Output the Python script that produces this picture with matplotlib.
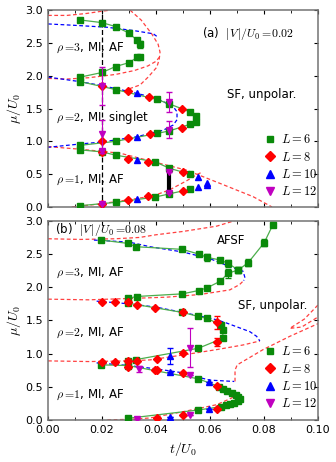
import matplotlib
matplotlib.use("Agg")
import matplotlib.pyplot as plt
import numpy as np

plt.rcParams['mathtext.fontset'] = 'cm'
plt.rcParams['font.size'] = 8

nan = np.nan

# ---------------- panel (a): |V|/U0 = 0.02 ----------------
a_L6_t = [0.012, 0.02, 0.025, 0.03, 0.033, 0.034, nan,
          0.034, 0.033, 0.03, 0.025, 0.02, 0.012, 0.012, 0.025, 0.0403, 0.045, 0.0526, 0.0548,
          0.0548, 0.0526, 0.045, 0.0403, 0.025, 0.012, 0.012, 0.02, 0.025, 0.0396, 0.045, 0.0526, nan,
          0.0526, 0.045, 0.0396, 0.025, 0.012]
a_L6_mu = [2.85, 2.81, 2.75, 2.65, 2.54, 2.48, nan,
           2.29, 2.28, 2.20, 2.14, 2.05, 1.98, 1.91, 1.79, 1.64, 1.57, 1.45, 1.39,
           1.30, 1.26, 1.16, 1.12, 1.00, 0.94, 0.87, 0.84, 0.79, 0.69, 0.59, 0.50, nan,
           0.27, 0.20, 0.15, 0.07, 0.02]
a_L8_t = [0.02, 0.0297, 0.0375, 0.0495, 0.0495, 0.0378, 0.0297, 0.02,
          0.02, 0.0297, 0.0371, 0.0501, 0.0501, 0.0371, 0.0297, 0.02]
a_L8_mu = [1.84, 1.77, 1.67, 1.50, 1.20, 1.11, 1.05, 1.00,
           0.84, 0.73, 0.69, 0.54, 0.25, 0.16, 0.10, 0.05]
a_L10_t = [0.0328, 0.0328, 0.0328, 0.0328, 0.0557, 0.0557, 0.059, 0.059]
a_L10_mu = [1.73, 1.06, 0.715, 0.12, 0.45, 0.30, 0.37, 0.33]
a_L12_t = [0.02, 0.02, 0.02, 0.02, 0.045, 0.045, 0.045, 0.045]
a_L12_mu = [1.84, 1.11, 0.86, 0.05, 1.60, 1.18, 0.54, 0.22]
a_L12_err = [0.29, 0.22, 0.03, 0.0, 0.15, 0.13, 0.0, 0.0]
a_bar_t = [0.045, 0.045]
a_bar_mu = [0.24, 0.54]

# mean-field / theory boundaries (a)
a_red1_t = [0.0, 0.007, 0.0143, 0.0193, 0.023]
a_red1_mu = [2.92, 2.92, 2.95, 2.98, 3.0]
a_red2_t = [0.0304, 0.0345, 0.0384, 0.0408, 0.0415, 0.0412, 0.0403, 0.0371, 0.0341, 0.030]
a_red2_mu = [3.0, 2.85, 2.64, 2.48, 2.36, 2.25, 2.13, 1.98, 1.86, 1.80]
a_red3_t = [0.0, 0.007, 0.015, 0.025, 0.032, 0.037, 0.0400, 0.0412]
a_red3_mu = [1.96, 1.95, 1.97, 2.02, 2.08, 2.15, 2.22, 2.28]
a_red4_t = [0.0, 0.012, 0.0267, 0.039, 0.0514, 0.0637, 0.076, 0.083]
a_red4_mu = [0.92, 0.88, 0.82, 0.69, 0.56, 0.36, 0.157, 0.0]
a_red5_t = [0.0088, 0.019, 0.0316, 0.039, 0.045, 0.0514, 0.055, 0.057]
a_red5_mu = [0.0, 0.045, 0.12, 0.17, 0.26, 0.40, 0.49, 0.53]
a_blue1_t = [0.0, 0.0094, 0.0217, 0.0316, 0.039, 0.041]
a_blue1_mu = [2.79, 2.77, 2.74, 2.69, 2.64, 2.58]
a_blue2_t = [0.0, 0.0119, 0.02, 0.03, 0.04, 0.0464, 0.0478, 0.0478, 0.0464, 0.0427, 0.0328, 0.0199, 0.0119, 0.0]
a_blue2_mu = [1.98, 1.91, 1.85, 1.76, 1.66, 1.53, 1.45, 1.33, 1.25, 1.17, 1.07, 0.99, 0.96, 0.91]

# ---------------- panel (b): |V|/U0 = 0.08 ----------------
b_L6_t = [0.0198, 0.0296, 0.0327, 0.0498, 0.0558, 0.0589, 0.0638, 0.0667, 0.0705, 0.0742, 0.0801, 0.0832, nan,
          0.0296, 0.0328, 0.0498, 0.0558, 0.0589, 0.0638, 0.0667, 0.0705, nan,
          0.0296, 0.0498, 0.0557, 0.0589, 0.0642, 0.0649, 0.0647, 0.0557, 0.0327, 0.0296, nan,
          0.0198, 0.0296, 0.0557, 0.0635, 0.065, 0.0665, 0.068, 0.0695, 0.0705, 0.071, 0.0705,
          0.069, 0.0675, 0.066, 0.064, 0.0557, 0.0296]
b_L6_mu = [2.71, 2.66, 2.61, 2.57, 2.50, 2.45, 2.41, 2.36, 2.26, 2.37, 2.67, 2.93, nan,
           1.83, 1.86, 1.90, 1.95, 1.99, 2.09, 2.21, 2.26, nan,
           1.76, 1.62, 1.56, 1.53, 1.43, 1.36, 1.23, 1.08, 0.91, 0.89, nan,
           0.83, 0.82, 0.62, 0.50, 0.47, 0.44, 0.41, 0.38, 0.35, 0.32, 0.29,
           0.26, 0.24, 0.22, 0.20, 0.15, 0.025]
b_L6_err_t = [0.0589, 0.0667, 0.0705, 0.0742, 0.0801, 0.0667]
b_L6_err_mu = [2.45, 2.36, 2.26, 2.37, 2.67, 2.21]
b_L6_err = [0.05, 0.05, 0.04, 0.05, 0.05, 0.07]
b_L8_t = [0.0199, 0.0248, 0.0297, 0.0328, 0.0396, 0.0501, 0.0625,
          0.0625, 0.0501, 0.0402,
          0.0199, 0.0248, 0.0297, 0.0328, 0.0297, 0.0396, 0.0402, 0.0501, 0.0625,
          0.0625, 0.0501, 0.0402]
b_L8_mu = [1.78, 1.78, 1.78, 1.73, 1.68, 1.63, 1.47,
           1.17, 1.01, 0.92,
           0.87, 0.87, 0.89, 0.89, 0.80, 0.75, 0.75, 0.71, 0.51,
           0.16, 0.075, 0.03]
b_L8_err = [0, 0, 0.03, 0, 0, 0, 0.1, 0.06, 0, 0, 0, 0, 0.03, 0, 0, 0, 0, 0, 0, 0, 0, 0]
b_L10_t = [0.0452, 0.0452, 0.0597, 0.0597, 0.0452]
b_L10_mu = [0.97, 0.73, 0.57, 0.16, 0.04]
b_L10_err = [0.12, 0, 0, 0, 0]
b_L12_t = [0.0337, 0.0526, 0.0526, 0.0526, 0.0328]
b_L12_mu = [0.77, 1.09, 0.68, 0.075, 0.015]
b_L12_err = [0.04, 0.29, 0, 0, 0]

b_red1_t = [0.0, 0.012, 0.025, 0.034, 0.040, 0.050, 0.0625, 0.069]
b_red1_mu = [2.73, 2.72, 2.73, 2.75, 2.79, 2.84, 2.92, 3.0]
b_red2_t = [0.0, 0.015, 0.03, 0.044, 0.0563, 0.0674, 0.071, 0.0725]
b_red2_mu = [1.82, 1.81, 1.83, 1.85, 1.89, 1.96, 2.04, 2.10]
b_red3_t = [0.0, 0.015, 0.03, 0.0378, 0.0501, 0.0625, 0.0723, 0.0785]
b_red3_mu = [0.89, 0.88, 0.89, 0.905, 0.98, 1.06, 1.13, 1.19]
b_red4_t = [0.0693, 0.0693, 0.0701, 0.0797, 0.0896, 0.1]
b_red4_mu = [0.58, 0.75, 0.83, 1.06, 1.26, 1.45]
b_red5_t = [0.1, 0.095, 0.0896, 0.094, 0.1]
b_red5_mu = [1.73, 1.52, 1.38, 1.40, 1.55]
b_red6_t = [0.022, 0.03, 0.0378, 0.0501, 0.0625, 0.068, 0.0700]
b_red6_mu = [0.0, 0.01, 0.03, 0.125, 0.23, 0.33, 0.40]
b_blue1_t = [0.017, 0.03, 0.0378, 0.05, 0.06, 0.0674, 0.0723, 0.073, 0.0725]
b_blue1_mu = [2.71, 2.68, 2.61, 2.53, 2.43, 2.31, 2.24, 2.14, 2.10]
b_blue2_t = [0.018, 0.03, 0.04, 0.05, 0.0625, 0.0662, 0.0748, 0.0773, 0.0785]
b_blue2_mu = [1.79, 1.75, 1.70, 1.62, 1.51, 1.46, 1.33, 1.26, 1.19]
b_blue3_t = [0.018, 0.03, 0.04, 0.05, 0.056, 0.06, 0.069]
b_blue3_mu = [0.86, 0.82, 0.77, 0.71, 0.64, 0.60, 0.58]

GREEN = '#0a8a0a'
LGREEN = '#4cae4c'
RED = '#ff0000'
DRED = '#ff4040'
BLUE = '#0000ff'
MAG = '#c000c0'


def dashed(ax, t, mu, color):
    ax.plot(t, mu, ls=(0, (3, 2)), color=color, lw=0.9, zorder=2)


def setup(ax, show_x):
    ax.set_xlim(0, 0.1)
    ax.set_ylim(0, 3.0)
    ax.set_xticks(np.arange(0, 0.1001, 0.02))
    ax.set_xticks(np.arange(0, 0.1001, 0.01), minor=True)
    ax.set_yticks(np.arange(0, 3.01, 0.5))
    ax.tick_params(direction='in', top=True, right=True, which='both', labelsize=8, length=3)
    ax.tick_params(which='minor', length=2)
    ax.xaxis.set_major_formatter(plt.FormatStrFormatter('%.2f'))
    ax.yaxis.set_major_formatter(plt.FormatStrFormatter('%.1f'))
    if not show_x:
        ax.set_xticklabels([])
    else:
        ax.set_xlabel(r'$t/U_0$', fontsize=10)
    ax.set_ylabel(r'$\mu/U_0$', fontsize=10, labelpad=2)
    for s in ax.spines.values():
        s.set_color('0.45')
        s.set_linewidth(1.1)


def legend(ax):
    h = [ax.plot([], [], 's', color=GREEN, ms=5)[0],
         ax.plot([], [], 'D', color=RED, ms=5)[0],
         ax.plot([], [], '^', color=BLUE, ms=5.5)[0],
         ax.plot([], [], 'v', color=MAG, ms=5.5)[0]]
    ax.legend(h, [r'$L=6$', r'$L=8$', r'$L=10$', r'$L=12$'], loc='upper left',
              bbox_to_anchor=(0.77, 0.40), frameon=False, fontsize=9,
              handletextpad=0.1, handlelength=1.5, labelspacing=0.35, borderaxespad=0)


fig = plt.figure(figsize=(3.36, 4.62), dpi=100)
ax_a = fig.add_axes([0.143, 0.552, 0.803, 0.426])
ax_b = fig.add_axes([0.143, 0.091, 0.803, 0.431])

# ---- panel (a)
ax = ax_a
ax.axvline(0.02, color='k', ls=(0, (4, 2)), lw=0.9, zorder=1)
for t, mu in [(a_red1_t, a_red1_mu), (a_red2_t, a_red2_mu), (a_red3_t, a_red3_mu),
              (a_red4_t, a_red4_mu), (a_red5_t, a_red5_mu)]:
    dashed(ax, t, mu, DRED)
for t, mu in [(a_blue1_t, a_blue1_mu), (a_blue2_t, a_blue2_mu)]:
    dashed(ax, t, mu, BLUE)
ax.plot(a_L6_t, a_L6_mu, '-', color=LGREEN, lw=0.9, zorder=3)
ax.plot(a_L6_t, a_L6_mu, 's', color=GREEN, ms=4.5, zorder=4)
ax.errorbar([0.034], [2.48], yerr=[0.05], fmt='none', ecolor=GREEN, elinewidth=0.8, capsize=2, zorder=4)
ax.plot(a_L8_t, a_L8_mu, 'D', color=RED, ms=4.5, zorder=5)
ax.plot(a_L10_t, a_L10_mu, '^', color=BLUE, ms=5, zorder=6)
ax.errorbar(a_L12_t, a_L12_mu, yerr=a_L12_err, fmt='v', color=MAG, ms=5, ecolor=MAG,
            elinewidth=0.8, capsize=2.5, zorder=7)
ax.plot(a_bar_t, a_bar_mu, color='k', lw=3, zorder=6)
ax.text(0.057, 2.65, r'(a)  $|V\,|/U_0=\!0.02$', fontsize=8.5, va='center')
ax.text(0.003, 2.42, r'$\rho=\!3$, MI, AF', fontsize=8.5, va='center')
ax.text(0.003, 1.36, r'$\rho=\!2$, MI, singlet', fontsize=8.5, va='center')
ax.text(0.003, 0.41, r'$\rho=\!1$, MI, AF', fontsize=8.5, va='center')
ax.text(0.0665, 1.72, 'SF, unpolar.', fontsize=8.5, va='center')
setup(ax, False)
legend(ax)

# ---- panel (b)
ax = ax_b
for t, mu in [(b_red1_t, b_red1_mu), (b_red2_t, b_red2_mu), (b_red3_t, b_red3_mu),
              (b_red4_t, b_red4_mu), (b_red5_t, b_red5_mu), (b_red6_t, b_red6_mu)]:
    dashed(ax, t, mu, DRED)
for t, mu in [(b_blue1_t, b_blue1_mu), (b_blue2_t, b_blue2_mu), (b_blue3_t, b_blue3_mu)]:
    dashed(ax, t, mu, BLUE)
ax.plot(b_L6_t, b_L6_mu, '-', color=LGREEN, lw=0.9, zorder=3)
ax.plot(b_L6_t, b_L6_mu, 's', color=GREEN, ms=4.5, zorder=4)
ax.errorbar(b_L6_err_t, b_L6_err_mu, yerr=b_L6_err, fmt='none', ecolor=GREEN,
            elinewidth=0.8, capsize=2, zorder=4)
ax.errorbar(b_L8_t, b_L8_mu, yerr=b_L8_err, fmt='D', color=RED, ms=4.5, ecolor=RED,
            elinewidth=0.8, capsize=2, zorder=5)
ax.errorbar(b_L10_t, b_L10_mu, yerr=b_L10_err, fmt='^', color=BLUE, ms=5, ecolor=BLUE,
            elinewidth=0.8, capsize=2, zorder=6)
ax.errorbar(b_L12_t, b_L12_mu, yerr=b_L12_err, fmt='v', color=MAG, ms=5, ecolor=MAG,
            elinewidth=0.8, capsize=2.5, zorder=7)
ax.text(0.0025, 2.87, r'(b)  $|V\,|/U_0=\!0.08$', fontsize=8.5, va='center')
ax.text(0.0625, 2.71, 'AFSF', fontsize=8.5, va='center')
ax.text(0.003, 2.22, r'$\rho=\!3$, MI, AF', fontsize=8.5, va='center')
ax.text(0.0705, 1.73, 'SF, unpolar.', fontsize=8.5, va='center')
ax.text(0.003, 1.31, r'$\rho=\!2$, MI, AF', fontsize=8.5, va='center')
ax.text(0.003, 0.38, r'$\rho=\!1$, MI, AF', fontsize=8.5, va='center')
setup(ax, True)
legend(ax)

fig.savefig('out.png', dpi=100)
